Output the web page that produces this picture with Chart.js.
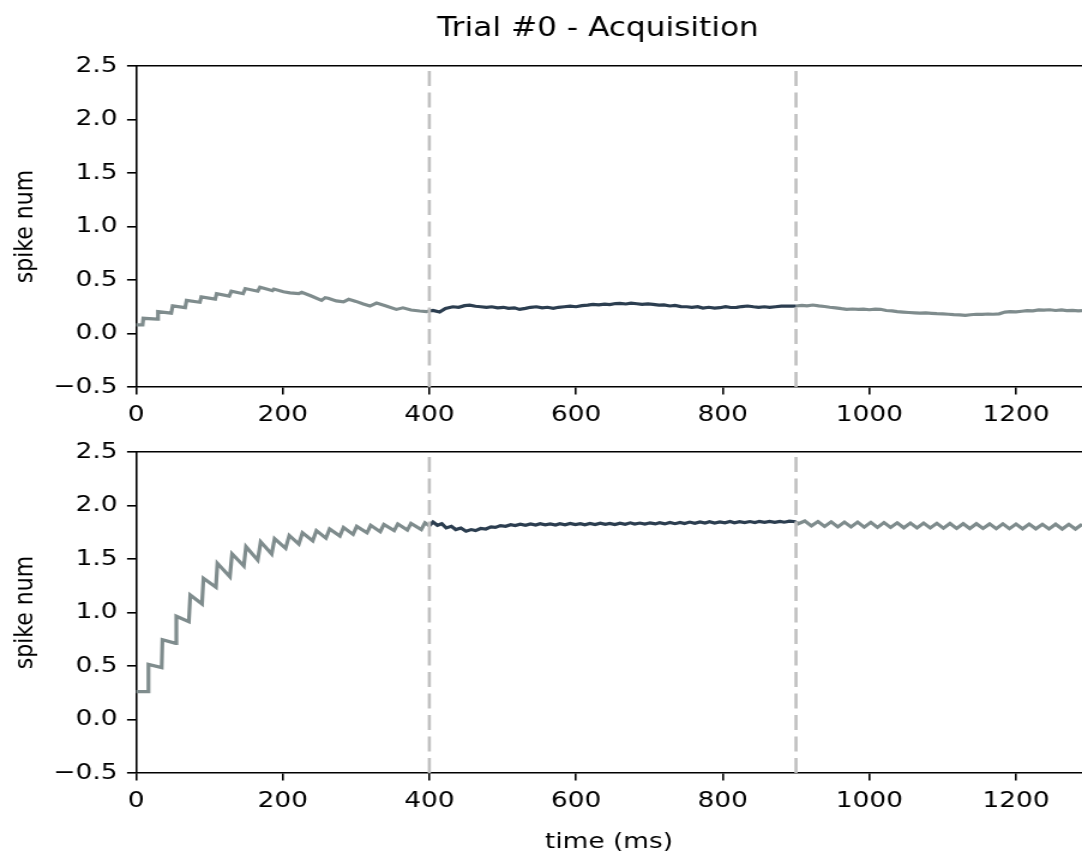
<!DOCTYPE html>
<html>
<head>
<meta charset="utf-8">
<title>Trial #0 - Acquisition</title>
<script src="https://cdn.jsdelivr.net/npm/chart.js@4.4.1/dist/chart.umd.min.js"></script>
<style>
  html, body { margin: 0; padding: 0; background: #fff; overflow: hidden; }
  #figure { position: relative; width: 1082px; height: 853px; overflow: hidden; }
  #figure canvas { position: absolute; left: 0; }
  #topPanel { top: 0; }
  #bottomPanel { top: 400px; }
</style>
</head>
<body>
<div id="figure">
  <canvas id="topPanel"></canvas>
  <canvas id="bottomPanel"></canvas>
</div>
<script>
// ========================================
// Data
// ========================================

const cueTimes = [400, 900];          // dashed markers (ms)
const xTickValues = [0, 200, 400, 600, 800, 1000, 1200];
const yTickValues = [-0.5, 0, 0.5, 1, 1.5, 2, 2.5];

// top panel: before cue (0-400 ms)
const topPreTime = [0, 9, 10, 29, 30, 48, 50, 67, 69, 87, 89, 108, 110, 127, 130, 146, 149, 166, 169, 178,
    186, 188, 201, 210, 222, 226, 239, 253, 258, 262, 273, 283, 290, 300, 310, 319, 328, 340, 355, 364,
    375, 387, 396, 400];
const topPreSpikes = [0.08, 0.08, 0.142, 0.135, 0.205, 0.19, 0.258, 0.242, 0.31, 0.292, 0.342, 0.322, 0.373, 0.35, 0.395, 0.372, 0.42, 0.395, 0.432, 0.415,
    0.40, 0.415, 0.39, 0.38, 0.372, 0.385, 0.35, 0.31, 0.335, 0.33, 0.305, 0.296, 0.32, 0.30, 0.275, 0.256, 0.285, 0.26, 0.225, 0.24,
    0.22, 0.21, 0.205, 0.21];

// top panel: cue window (400-900 ms)
const topCueTime = [400, 405, 414, 422, 432, 440, 448, 455, 463, 470, 478, 485, 493, 501, 508, 516, 523, 531, 538, 546,
    554, 561, 569, 576, 584, 592, 600, 608, 616, 623, 631, 639, 646, 654, 660, 668, 675, 683, 690, 698,
    705, 713, 720, 728, 735, 743, 751, 758, 766, 773, 781, 789, 796, 804, 811, 819, 826, 834, 842, 849,
    857, 864, 872, 880, 887, 895, 900];
const topCueSpikes = [0.21, 0.215, 0.20, 0.235, 0.25, 0.245, 0.26, 0.265, 0.255, 0.25, 0.245, 0.25, 0.24, 0.245, 0.235, 0.24, 0.225, 0.235, 0.245, 0.25,
    0.24, 0.245, 0.235, 0.245, 0.25, 0.255, 0.25, 0.26, 0.265, 0.272, 0.268, 0.275, 0.27, 0.28, 0.282, 0.276, 0.283, 0.278, 0.272, 0.276,
    0.272, 0.265, 0.268, 0.257, 0.262, 0.252, 0.25, 0.245, 0.25, 0.237, 0.245, 0.238, 0.241, 0.25, 0.243, 0.245, 0.252, 0.257, 0.25, 0.245,
    0.25, 0.245, 0.25, 0.255, 0.257, 0.255, 0.257];

// top panel: after cue (900-1290 ms)
const topPostTime = [900, 908, 915, 923, 931, 939, 946, 954, 962, 969, 977, 985, 992, 1000, 1008, 1015, 1023, 1031, 1038, 1046,
    1054, 1062, 1069, 1077, 1085, 1092, 1100, 1108, 1115, 1123, 1131, 1138, 1146, 1154, 1162, 1169, 1177, 1185, 1192, 1200,
    1208, 1215, 1223, 1231, 1238, 1246, 1254, 1262, 1269, 1277, 1285, 1290];
const topPostSpikes = [0.257, 0.262, 0.258, 0.266, 0.258, 0.252, 0.245, 0.24, 0.232, 0.226, 0.229, 0.225, 0.228, 0.222, 0.228, 0.226, 0.215, 0.212, 0.204, 0.20,
    0.196, 0.193, 0.19, 0.192, 0.188, 0.185, 0.183, 0.18, 0.176, 0.174, 0.17, 0.175, 0.18, 0.178, 0.182, 0.18, 0.184, 0.20, 0.205, 0.203,
    0.208, 0.213, 0.212, 0.22, 0.218, 0.222, 0.215, 0.22, 0.214, 0.216, 0.212, 0.214];

// bottom panel: before cue (0-400 ms)
const bottomPreTime = [0, 16, 17, 35, 36, 54, 55, 72, 74, 90, 92, 109, 111, 128, 131, 147, 150, 166, 170, 185,
    189, 204, 209, 222, 227, 241, 246, 259, 264, 278, 283, 296, 301, 315, 320, 333, 338, 352, 357, 370,
    375, 389, 394, 400];
const bottomPreSpikes = [0.26, 0.26, 0.515, 0.485, 0.745, 0.712, 0.965, 0.914, 1.164, 1.08, 1.32, 1.236, 1.46, 1.335, 1.548, 1.435, 1.615, 1.49, 1.66, 1.547,
    1.69, 1.60, 1.72, 1.64, 1.745, 1.67, 1.765, 1.695, 1.78, 1.715, 1.795, 1.73, 1.805, 1.745, 1.815, 1.755, 1.822, 1.765, 1.828, 1.77,
    1.833, 1.775, 1.838, 1.81];

// bottom panel: cue window (400-900 ms)
const bottomCueTime = [400, 405, 411, 417, 423, 430, 436, 443, 450, 457, 463, 470, 477, 484, 490, 497, 504, 511, 517, 524,
    531, 538, 545, 551, 558, 565, 572, 578, 585, 592, 599, 606, 612, 619, 626, 633, 640, 646, 653, 660,
    667, 674, 680, 687, 694, 701, 708, 714, 721, 728, 735, 742, 748, 755, 762, 769, 776, 782, 789, 796,
    803, 810, 816, 823, 830, 837, 844, 850, 857, 864, 871, 878, 884, 891, 900];
const bottomCueSpikes = [1.81, 1.845, 1.815, 1.83, 1.79, 1.805, 1.775, 1.79, 1.76, 1.775, 1.765, 1.785, 1.78, 1.80, 1.795, 1.812, 1.805, 1.82, 1.812, 1.825,
    1.815, 1.828, 1.818, 1.83, 1.82, 1.828, 1.818, 1.83, 1.82, 1.832, 1.822, 1.83, 1.82, 1.832, 1.822, 1.835, 1.824, 1.832, 1.822, 1.835,
    1.825, 1.838, 1.826, 1.836, 1.826, 1.838, 1.828, 1.84, 1.828, 1.842, 1.83, 1.842, 1.832, 1.845, 1.833, 1.846, 1.836, 1.848, 1.836, 1.846,
    1.838, 1.85, 1.838, 1.848, 1.84, 1.85, 1.84, 1.852, 1.842, 1.852, 1.842, 1.852, 1.844, 1.854, 1.848];

// bottom panel: after cue (900-1290 ms)
const bottomPostTime = [900, 903, 912, 921, 930, 939, 948, 957, 966, 975, 984, 993, 1002, 1011, 1020, 1029, 1038, 1047, 1056, 1065,
    1074, 1083, 1092, 1101, 1110, 1119, 1128, 1137, 1146, 1155, 1164, 1173, 1182, 1191, 1200, 1209, 1218, 1227, 1236, 1245,
    1254, 1263, 1272, 1281, 1290];
const bottomPostSpikes = [1.848, 1.83, 1.855, 1.81, 1.85, 1.805, 1.848, 1.80, 1.845, 1.80, 1.845, 1.798, 1.842, 1.795, 1.84, 1.795, 1.838, 1.792, 1.836, 1.79,
    1.835, 1.79, 1.833, 1.788, 1.832, 1.786, 1.83, 1.785, 1.83, 1.785, 1.828, 1.784, 1.828, 1.783, 1.826, 1.782, 1.826, 1.782, 1.825, 1.781,
    1.825, 1.78, 1.824, 1.78, 1.824];

// ========================================
// Styling
// ========================================

const OUTSIDE_COLOR = '#7f8c8d';
const CUE_COLOR = '#2c3e50';
const MARKER_COLOR = '#c0c0c0';

// the reference figure is stretched sideways, so each canvas is drawn
// narrower and widened with CSS
const PAGE_WIDTH = 1082;
const STRETCH = 1.2;
const CANVAS_WIDTH = Math.round(PAGE_WIDTH / STRETCH);
const SX = PAGE_WIDTH / CANVAS_WIDTH;

Chart.defaults.font.family = "'DejaVu Sans', sans-serif";
Chart.defaults.font.size = 22;
Chart.defaults.color = '#000';

// figure title, centred on the figure rather than on the axes
const supTitle = {
    id: 'supTitle',
    afterDraw(chart, args, opts) {
        const ctx = chart.ctx;
        ctx.save();
        ctx.font = "26px 'DejaVu Sans', sans-serif";
        ctx.fillStyle = '#000';
        ctx.textAlign = 'center';
        ctx.textBaseline = 'alphabetic';
        ctx.fillText(opts.text, opts.x / SX, opts.y);
        ctx.restore();
    }
};

function toPoints(times, values) {
    return times.map((t, i) => ({ x: t, y: values[i] }));
}

function segment(times, values, color) {
    return {
        data: toPoints(times, values),
        borderColor: color,
        borderWidth: 3.2,
        pointRadius: 0,
        tension: 0,
        order: 1
    };
}

function cueMarker(t) {
    return {
        data: [{ x: t, y: yTickValues[0] }, { x: t, y: yTickValues[yTickValues.length - 1] }],
        borderColor: MARKER_COLOR,
        borderWidth: 2.6,
        borderDash: [15, 6.5],
        pointRadius: 0,
        order: 0
    };
}

/**
 * One subplot of the figure
 * @param {string} canvasId
 * @param {Array} datasets
 * @param {Object} layout - canvas height, padding top, x-axis height, optional titles
 */
function makePanel(canvasId, datasets, layout) {
    const canvas = document.getElementById(canvasId);
    canvas.width = CANVAS_WIDTH;
    canvas.height = layout.height;
    canvas.style.width = PAGE_WIDTH + 'px';
    canvas.style.height = layout.height + 'px';

    const spine = { display: true, color: '#000', width: 1.6 };
    const tickMarks = { display: true, drawOnChartArea: false, drawTicks: true, tickLength: 7.5, color: '#000', lineWidth: 1.6 };

    return new Chart(canvas, {
        type: 'line',
        data: { datasets: datasets },
        plugins: layout.title ? [supTitle] : [],
        options: {
            responsive: false,
            animation: false,
            devicePixelRatio: 1,
            layout: { padding: { top: layout.top, left: 0, right: 0, bottom: 0 } },
            scales: {
                x: {
                    type: 'linear',
                    position: 'bottom',
                    min: 0,
                    max: 1290,
                    afterBuildTicks: s => { s.ticks = xTickValues.map(v => ({ value: v })); },
                    afterFit: s => { s.height = layout.xHeight; },
                    ticks: { padding: 8, maxRotation: 0, autoSkip: false, callback: v => String(v) },
                    grid: tickMarks,
                    border: spine,
                    title: layout.xTitle ? {
                        display: true,
                        text: layout.xTitle,
                        padding: { top: 0, bottom: 5 }
                    } : { display: false }
                },
                xTop: {
                    type: 'linear',
                    position: 'top',
                    min: 0,
                    max: 1290,
                    afterFit: s => { s.height = 0; },
                    ticks: { display: false },
                    grid: { display: false },
                    border: spine
                },
                y: {
                    type: 'linear',
                    position: 'left',
                    min: -0.5,
                    max: 2.5,
                    afterBuildTicks: s => { s.ticks = yTickValues.map(v => ({ value: v })); },
                    afterFit: s => { s.width = 136 / SX; },
                    ticks: {
                        padding: 8,
                        callback: v => (v < 0 ? '\u2212' : '') + Math.abs(v).toFixed(1)
                    },
                    grid: tickMarks,
                    border: spine,
                    title: { display: true, text: 'spike num', padding: { top: 8, bottom: 0 } }
                }
            },
            plugins: {
                legend: { display: false },
                tooltip: { enabled: false },
                supTitle: layout.title || {}
            }
        }
    });
}

makePanel('topPanel', [
    segment(topPreTime, topPreSpikes, OUTSIDE_COLOR),
    segment(topCueTime, topCueSpikes, CUE_COLOR),
    segment(topPostTime, topPostSpikes, OUTSIDE_COLOR),
    ...cueTimes.map(cueMarker)
], { height: 440, top: 66, xHeight: 53, title: { text: 'Trial #0 - Acquisition', x: 598, y: 36 } });

// canvas starts at 400px on the page: axes run 452 -> 773
makePanel('bottomPanel', [
    segment(bottomPreTime, bottomPreSpikes, OUTSIDE_COLOR),
    segment(bottomCueTime, bottomCueSpikes, CUE_COLOR),
    segment(bottomPostTime, bottomPostSpikes, OUTSIDE_COLOR),
    ...cueTimes.map(cueMarker)
], { height: 460, top: 52, xHeight: 87, xTitle: 'time (ms)' });
</script>
</body>
</html>
